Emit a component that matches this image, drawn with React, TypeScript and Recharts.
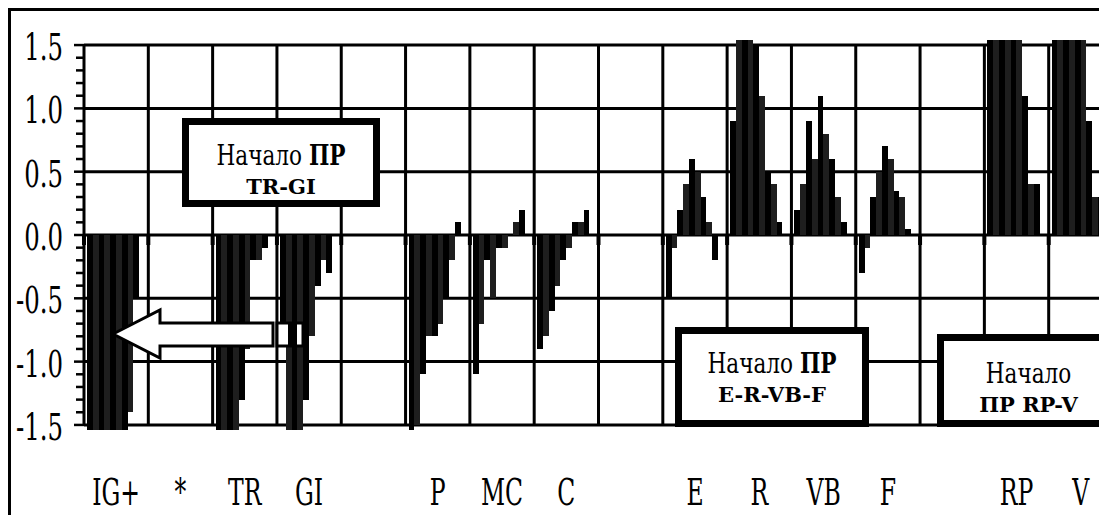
import { BarChart, Bar, XAxis, YAxis, CartesianGrid } from "recharts";

// category labels along the bottom (blank = empty column)
const categories = ["IG+", "*", "TR", "GI", "", "P", "MC", "C", "", "E", "R", "VB", "F", "", "RP", "V"];

// nine readings per meridian (clipped bars set past the axis limit)
const igPlus = [-1.6, -1.6, -1.6, -1.6, -1.6, -1.6, -1.6, -1.4, -0.5];
const tr = [-1.6, -1.6, -1.6, -1.6, -1.3, -0.9, -0.2, -0.2, -0.1];
const gi = [-0.85, -1.6, -1.6, -1.6, -1.3, -0.8, -0.4, -0.2, -0.3];
const p = [-1.6, -1.5, -1.1, -0.8, -0.8, -0.7, -0.5, -0.2, 0.1];
const mc = [-1.1, -0.7, -0.2, -0.5, -0.1, -0.1, 0, 0.1, 0.2];
const c = [-0.9, -0.8, -0.6, -0.4, -0.2, -0.1, 0.1, 0.1, 0.2];
const e = [-0.5, -0.1, 0.2, 0.4, 0.6, 0.5, 0.3, 0.1, -0.2];
const r = [0.9, 1.6, 1.6, 1.6, 1.5, 1.1, 0.5, 0.4, 0.1];
const vb = [0.2, 0.4, 0.9, 0.6, 1.1, 0.8, 0.6, 0.3, 0.1];
const f = [-0.3, -0.1, 0.3, 0.5, 0.7, 0.6, 0.35, 0.3, 0.05];
const rp = [1.6, 1.6, 1.6, 1.6, 1.6, 1.6, 1.1, 0.4, 0.4];
const v = [1.6, 1.6, 1.6, 1.6, 1.6, 1.6, 0.9, 0.3, 0.3];

const groups: (number[] | null)[] = [igPlus, null, tr, gi, null, p, mc, c, null, e, r, vb, f, null, rp, v];

const seriesKeys = ["t1", "t2", "t3", "t4", "t5", "t6", "t7", "t8", "t9"];
const yMajor = [-1.5, -1, -0.5, 0, 0.5, 1, 1.5];
const yTicks = Array.from({ length: 31 }, (_, i) => (i - 15) / 10);

const data = categories.map((name, i) => {
  const row: Record<string, any> = { name };
  const g = groups[i];
  if (g) g.forEach((val, j) => (row[seriesKeys[j]] = val));
  return row;
});

const W = 1120;
const H = 507;
const MT = 32;
const PLOT_H = 390;
const XH = H - MT - PLOT_H;
const Y_MAX = 1.54;
const PX = PLOT_H / (2 * Y_MAX);
const gridTop = MT + (Y_MAX - 1.5) * PX;
const zeroY = MT + Y_MAX * PX;
const FONT = "'DejaVu Serif', serif";

const boundaries = ({ offset }: any) =>
  Array.from({ length: categories.length + 1 }, (_, i) => offset.left + (i * offset.width) / categories.length);

const rows = ({ offset }: any) =>
  yMajor.map((val) => offset.top + ((Y_MAX - val) * offset.height) / (2 * Y_MAX));

const XTick = ({ x, y, payload }: any) => (
  <text
    transform={`translate(${x},${y + 75}) scale(0.62,1)`}
    textAnchor="middle"
    style={{ fontFamily: FONT, fontSize: 38 }}
    fill="#000"
  >
    {payload.value}
  </text>
);

const YTick = ({ x, y, payload }: any) => {
  const val = payload.value as number;
  const major = Math.abs(val * 2 - Math.round(val * 2)) < 1e-6;
  return (
    <g>
      <line x1={x - (major ? 10 : 8)} x2={x} y1={y} y2={y} stroke="#000" strokeWidth={2.5} />
      {major && (
        <text
          transform={`translate(${x - 21},${y + 15}) scale(0.66,1)`}
          textAnchor="end"
          style={{ fontFamily: FONT, fontSize: 37 }}
          fill="#000"
        >
          {val.toFixed(1)}
        </text>
      )}
    </g>
  );
};

const boxStyle = (left: number, top: number, width: number, height: number, pad: number) => ({
  position: "absolute" as const,
  left,
  top,
  width,
  height,
  border: "7px solid #000",
  boxSizing: "border-box" as const,
  background: "#fff",
  paddingTop: pad,
  textAlign: "center" as const,
  fontFamily: FONT,
  color: "#000",
  whiteSpace: "nowrap" as const,
});

const line1 = { fontSize: 27, lineHeight: "30px", transform: "scaleX(0.8)", transformOrigin: "center" };
const line2 = { fontSize: 21, lineHeight: "32px", fontWeight: 700 };

export default function App() {
  return (
    <div style={{ position: "relative", width: 1099, height: H, overflow: "hidden", background: "#fff" }}>
      <div style={{ position: "absolute", left: 0, top: 0 }}>
        <BarChart
          width={W}
          height={H}
          data={data}
          margin={{ top: MT, right: 15, bottom: 0, left: 0 }}
          barGap={0}
          barCategoryGap={0}
        >
          <CartesianGrid vertical={false} stroke="#000" strokeWidth={3} horizontalCoordinatesGenerator={rows} />
          <CartesianGrid
            horizontal={false}
            stroke="#000"
            strokeWidth={3}
            y={gridTop}
            height={3 * PX}
            verticalCoordinatesGenerator={boundaries}
          />
          <XAxis
            dataKey="name"
            axisLine={false}
            tickLine={false}
            tickSize={0}
            tickMargin={0}
            interval={0}
            height={XH}
            tick={XTick}
          />
          <YAxis
            type="number"
            domain={[-Y_MAX, Y_MAX]}
            allowDataOverflow
            ticks={yTicks}
            interval={0}
            width={76}
            axisLine={false}
            tickLine={false}
            tickSize={0}
            tickMargin={0}
            tick={YTick}
          />
          {seriesKeys.map((k, j) => (
            <Bar
              key={k}
              dataKey={k}
              fill={j % 2 ? "#1e1e1e" : "#000"}
              barSize={5.8}
              shapeRendering="crispEdges"
              isAnimationActive={false}
            />
          ))}
          <Bar dataKey="spacer" fill="#000" barSize={5.8} isAnimationActive={false} />
          <CartesianGrid
            horizontal={false}
            stroke="#000"
            strokeWidth={4}
            y={zeroY}
            height={10}
            verticalCoordinatesGenerator={boundaries}
          />
        </BarChart>
      </div>

      <svg style={{ position: "absolute", left: 0, top: 0 }} width={1099} height={H}>
        <polygon
          points="105,326 152,302 152,315 265,315 265,338 152,338 152,350"
          fill="#fff"
          stroke="#000"
          strokeWidth={3}
        />
        <rect x={269} y={315} width={26} height={23} fill="#fff" stroke="#000" strokeWidth={3} />
        <rect x={280} y={315} width={9} height={23} fill="#000" />
      </svg>

      <div style={boxStyle(174, 110, 198, 89, 15.5)}>
        <div style={line1}>
          Начало <b>ПР</b>
        </div>
        <div style={line2}>TR-GI</div>
      </div>
      <div style={boxStyle(667, 319, 194, 100, 14.8)}>
        <div style={line1}>
          Начало <b>ПР</b>
        </div>
        <div style={line2}>E-R-VB-F</div>
      </div>
      <div style={boxStyle(929, 326, 183, 93, 17.8)}>
        <div style={line1}>Начало</div>
        <div style={line2}>ПР RP-V</div>
      </div>

      <svg style={{ position: "absolute", left: 0, top: 0, pointerEvents: "none" }} width={1099} height={H}>
        <line x1={0} x2={1099} y1={1.5} y2={1.5} stroke="#000" strokeWidth={3} />
        <line x1={1.5} x2={1.5} y1={0} y2={H} stroke="#000" strokeWidth={3} />
      </svg>
    </div>
  );
}
